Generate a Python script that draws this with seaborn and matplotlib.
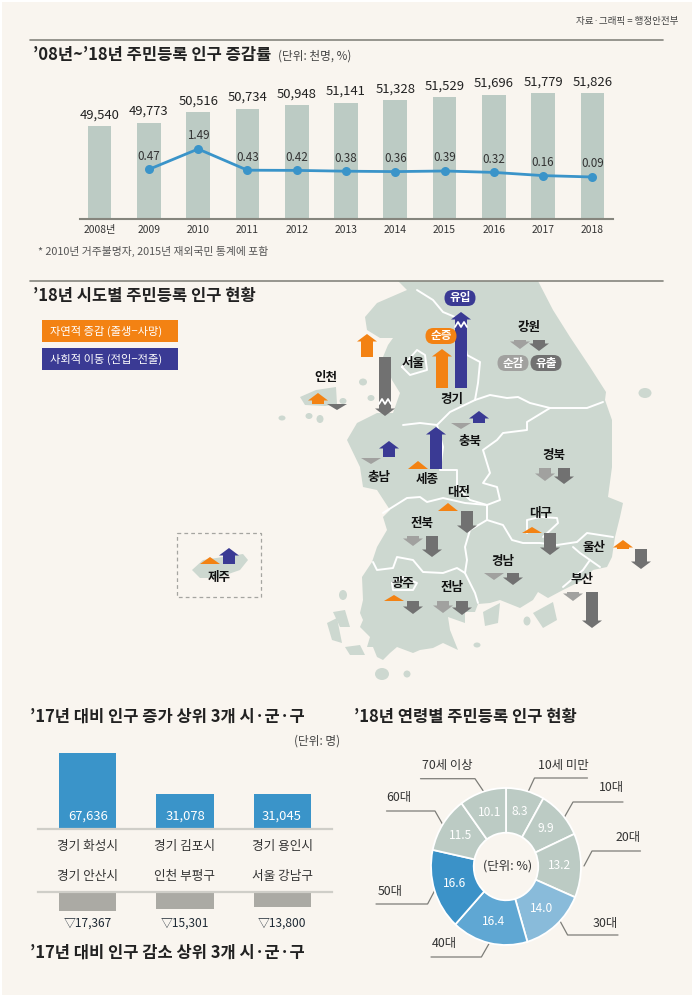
import matplotlib
matplotlib.use('Agg')
import matplotlib.pyplot as plt
import pandas as pd
import seaborn as sns
from matplotlib.patches import Ellipse, FancyBboxPatch, Polygon, Rectangle

sns.set_theme(style='white')
plt.rcParams['font.family'] = ['Noto Sans CJK KR', 'DejaVu Sans']

BG = '#f9f5ef'
SAGE = '#bccbc4'
LAND = '#cdd8d0'
BLUE = '#3a94c9'
NAVY = '#3a3a94'
ORANGE = '#f38213'
DARK = '#717171'
LIGHT = '#a1a19f'
RULE = '#85857d'
INK = '#222222'

# population trend
years = ['2008년', '2009', '2010', '2011', '2012', '2013', '2014', '2015', '2016', '2017', '2018']
population = [49540, 49773, 50516, 50734, 50948, 51141, 51328, 51529, 51696, 51779, 51826]
rate_years = years[1:]
rates = [0.47, 1.49, 0.43, 0.42, 0.38, 0.36, 0.39, 0.32, 0.16, 0.09]

# regions: natural change and social migration, arrow lengths
regions = ['경기', '서울', '인천', '강원', '충북', '세종', '충남', '경북', '대전',
           '전북', '대구', '울산', '경남', '부산', '광주', '전남', '제주']
natural = [39, 23, 11, -9, -6, 8, -6, -13, 8, -10, 6, 9, -7, -9, 6, -12, 7]
social = [76, -59, -6, -11, 12, 42, 16, -16, -22, -21, -22, -20, -12, -36, -13, -14, 16]

# top and bottom districts
up_names = ['경기 화성시', '경기 김포시', '경기 용인시']
up_values = [67636, 31078, 31045]
down_names = ['경기 안산시', '인천 부평구', '서울 강남구']
down_values = [17367, 15301, 13800]

# age groups
age_labels = ['10세 미만', '10대', '20대', '30대', '40대', '50대', '60대', '70세 이상']
age_shares = [8.3, 9.9, 13.2, 14.0, 16.4, 16.6, 11.5, 10.1]
age_colors = [SAGE, SAGE, SAGE, '#89bbda', '#5fa7d3', '#3b92c8', SAGE, SAGE]

# map drawing, in image pixels
mainland = [(398, 281), (538, 281), (553, 310), (570, 337), (590, 367), (606, 392), (605, 400),
            (612, 420), (612, 467), (608, 497), (623, 503), (620, 517), (615, 537), (612, 557),
            (607, 567), (593, 570), (583, 580), (563, 590), (548, 598), (538, 592), (533, 600),
            (520, 608), (500, 600), (490, 603), (478, 604), (475, 612), (465, 612), (465, 623),
            (448, 617), (450, 630), (458, 650), (443, 643), (433, 648), (420, 650), (413, 653),
            (397, 647), (390, 653), (383, 660), (377, 657), (373, 647), (367, 647), (370, 637),
            (360, 627), (363, 620), (360, 613), (363, 600), (362, 577), (372, 562), (377, 547),
            (387, 530), (383, 517), (390, 510), (377, 490),
            (363, 487), (360, 467), (347, 440), (357, 423), (377, 413), (393, 413), (400, 393),
            (392, 380), (383, 357), (388, 345), (393, 338), (380, 338), (367, 330), (365, 317),
            (377, 303), (407, 290)]
incheon_isles = [(300, 397), (316, 390), (336, 387), (337, 404), (325, 406), (305, 405)]
jeju_shape = [(192, 570), (203, 560), (243, 554), (248, 560), (240, 570), (217, 578), (200, 578)]
geoje = [(533, 613), (553, 602), (557, 620), (543, 628)]
namhae = [(483, 612), (500, 603), (498, 623), (485, 626)]
jindo = [(327, 623), (337, 618), (342, 643), (332, 640)]
sinan = [(333, 612), (345, 610), (350, 627), (340, 627)]
wando = [(345, 647), (360, 645), (365, 655), (350, 655)]
blobs = [(282, 418, 7, 5), (309, 416, 7, 6), (320, 419, 7, 8), (371, 398, 7, 6), (343, 401, 7, 6),
         (363, 382, 8, 7), (645, 393, 13, 10), (343, 595, 8, 10), (477, 645, 7, 5), (527, 621, 7, 9),
         (382, 674, 14, 12), (407, 674, 7, 7)]
boundaries = [
    [(417, 290), (433, 300), (443, 312), (455, 317), (462, 327), (467, 355), (480, 362), (478, 383),
     (475, 400)],
    [(475, 400), (490, 395), (507, 398), (518, 397), (530, 403), (550, 408), (567, 408), (587, 408),
     (603, 402)],
    [(403, 425), (420, 423), (437, 425), (450, 412), (475, 400)],
    [(550, 408), (527, 422), (527, 430), (503, 433), (497, 440), (483, 450), (490, 473), (483, 483),
     (497, 487), (500, 500), (487, 505), (487, 518), (487, 520)],
    [(437, 425), (443, 447), (440, 470), (457, 470), (457, 487), (470, 500), (487, 505)],
    [(383, 513), (407, 498), (420, 497), (427, 502), (443, 498), (465, 503), (487, 505), (487, 520),
     (470, 530), (465, 547), (467, 560), (465, 573), (475, 593), (478, 603)],
    [(373, 562), (377, 570), (393, 568), (397, 557), (413, 560), (423, 572), (443, 573), (457, 568),
     (465, 573)],
    [(487, 520), (503, 525), (512, 540), (523, 543), (540, 543), (557, 545), (577, 542), (587, 533),
     (600, 535), (613, 537)],
    [(573, 547), (580, 553), (590, 560), (600, 567)],
    [(590, 560), (583, 570), (563, 587)],
    [(527, 533), (527, 520), (540, 517), (557, 518), (558, 523), (543, 537)],
    [(392, 583), (403, 577), (417, 583), (413, 590), (393, 590), (392, 583)],
    [(402, 367), (417, 350), (425, 355), (427, 370), (410, 375), (402, 367)],
]

# pixel positions of the map furniture
natural_x = [442, 367, 318, 520, 461, 418, 371, 545, 448, 413, 532, 623, 494, 573, 394, 443, 210]
natural_y = [388, 357, 404, 340, 423, 469, 458, 468, 511, 536, 533, 549, 573, 592, 601, 601, 564]
social_x = [461, 385, 337, 539, 479, 436, 389, 564, 467, 432, 550, 641, 513, 592, 413, 462, 229]
social_y = [388, 357, 404, 340, 423, 469, 457, 468, 511, 536, 533, 549, 573, 592, 601, 601, 564]
label_xy = [(452, 400), (413, 363), (326, 378), (529, 327), (470, 442), (427, 479), (379, 477),
            (554, 456), (459, 492), (422, 523), (541, 514), (594, 548), (503, 562), (582, 580),
            (403, 583), (452, 588), (219, 577)]

leaders = [[(587.5, 778), (534.5, 778), (528, 792)],
           [(623, 802), (573, 802), (564.5, 817)],
           [(640.5, 851), (592, 851), (584, 866)],
           [(618, 935), (567.6, 935), (560, 921)],
           [(431, 957), (481.4, 957), (489.4, 943)],
           [(376, 904), (427.6, 904), (435, 890)],
           [(386.5, 811), (435, 811), (443, 825)],
           [(420.5, 778.7), (475, 778.7), (484, 792)]]
leader_label_xy = [(563, 765), (611, 788), (628, 838), (605, 923),
                   (444, 943), (390, 891), (399, 798), (447, 765)]

W, H = 692, 998
fig = plt.figure(figsize=(W / 100, H / 100), dpi=100, facecolor='white')


def axes_px(left, top, right, bottom, **kw):
    ax = fig.add_axes([left / W, 1 - bottom / H, (right - left) / W, (bottom - top) / H], **kw)
    ax.patch.set_alpha(0)
    return ax


base = axes_px(0, 0, W, H)
base.set_xlim(0, W)
base.set_ylim(H, 0)
base.axis('off')
base.add_patch(Rectangle((2, 2), W - 2, H - 5, color=BG, lw=0))


def put(x, y, s, size=9.0, color=INK, ha='center', weight='normal', zorder=6):
    base.text(x, y, s, fontsize=size, color=color, ha=ha, va='center', weight=weight, zorder=zorder)


def arrow(x, y, length, color):
    # y grows downward in the overlay, so positive length points up the page
    sign = -1 if length > 0 else 1
    tip = y + sign * abs(length)
    if abs(length) <= 8:
        pts = [(x - 10, y), (x, tip), (x + 10, y)]
    else:
        neck = tip - sign * 7.5
        pts = [(x - 6, y), (x - 6, neck), (x - 10, neck), (x, tip), (x + 10, neck), (x + 6, neck), (x + 6, y)]
    base.add_patch(Polygon(pts, closed=True, color=color, lw=0, zorder=4))


# ---- header and rules
put(678, 21, '자료·그래픽 = 행정안전부', size=6.9, color='#444444', ha='right')
for rule_y in (40, 281):
    base.plot([30, 663], [rule_y, rule_y], color=RULE, lw=1.2, zorder=5)
put(33, 55, "’08년~’18년 주민등록 인구 증감률", size=11.9, ha='left', weight='bold')
put(278, 56, '(단위: 천명, %)', size=8.4, color='#444444', ha='left')
put(38, 251, '* 2010년 거주불명자, 2015년 재외국민 통계에 포함', size=7.8, color='#555555', ha='left')

# ---- trend chart
trend_df = pd.DataFrame({'year': years, 'population': population})
ax = axes_px(80.4, 60, 612.6, 219)
sns.barplot(data=trend_df, x='year', y='population', color=SAGE, saturation=1, width=0.48, linewidth=0, ax=ax)
ax.set_xlim(-0.389, 10.41)
ax.set_ylim(43120, 54086)
ax.set_xlabel('')
ax.set_ylabel('')
ax.set_yticks([])
ax.tick_params(axis='x', length=0, pad=4, labelsize=7.4, labelcolor='#333333')
sns.despine(ax=ax, left=True)
ax.spines['bottom'].set_color(RULE)
ax.spines['bottom'].set_linewidth(1.5)
for i, v in enumerate(population):
    ax.annotate(f'{v:,}', (i, v), xytext=(0, 8), textcoords='offset points', ha='center', va='center',
                fontsize=9.4, color=INK)

rate_df = pd.DataFrame({'year': rate_years, 'rate': rates})
ax2 = ax.twinx()
ax2.patch.set_alpha(0)
sns.lineplot(data=rate_df, x=[years.index(y) for y in rate_years], y='rate', color=BLUE, lw=2,
             marker='o', markersize=6.5, markeredgewidth=0, ax=ax2)
ax2.set_ylim(-2.01, 5.94)
ax2.axis('off')
for i, r in enumerate(rates):
    ax2.annotate(f'{r:.2f}', (i + 1, r), xytext=(0, 9.5), textcoords='offset points',
                 ha='center', va='center', fontsize=8.4, color='#333333')

# ---- map
put(33, 296, "’18년 시도별 주민등록 인구 현황", size=11.9, ha='left', weight='bold')
for shape in (mainland, incheon_isles, jeju_shape, geoje, namhae, jindo, sinan, wando):
    base.add_patch(Polygon(shape, closed=True, color=LAND, lw=0, zorder=1))
for bx, by, bw, bh in blobs:
    base.add_patch(Ellipse((bx, by), bw, bh, color=LAND, lw=0, zorder=1))
for line in boundaries:
    base.plot(*zip(*line), color='white', lw=1.4, zorder=2)
base.add_patch(Rectangle((177, 533), 84, 64, fill=False, ec='#a5a5a0', ls=(0, (3, 2.5)), lw=0.9, zorder=2))

for i, name in enumerate(regions):
    arrow(natural_x[i], natural_y[i], natural[i], ORANGE if natural[i] > 0 else LIGHT)
    arrow(social_x[i], social_y[i], social[i], NAVY if social[i] > 0 else DARK)
    put(label_xy[i][0], label_xy[i][1], name, size=9, color='#111111', weight='bold')

# white breaks on the two arrows that are shortened
base.plot([455, 458, 461, 464, 467], [327, 322, 327, 322, 327], color='white', lw=1.3, zorder=5)
base.plot([379, 382, 385, 388, 391], [404, 399, 404, 399, 404], color='white', lw=1.3, zorder=5)

for px_, py_, text_, col_ in [(460, 298, '유입', NAVY), (441, 336, '순증', ORANGE),
                              (513, 363, '순감', LIGHT), (546, 363, '유출', DARK)]:
    base.add_patch(FancyBboxPatch((px_ - 15.5, py_ - 8), 31, 16, boxstyle='round,pad=0,rounding_size=8',
                                  color=col_, lw=0, zorder=5))
    put(px_, py_, text_, size=8.4, color='white', weight='bold')

for ly, text_, col_ in [(331, '자연적 증감 (출생−사망)', ORANGE), (359, '사회적 이동 (전입−전출)', NAVY)]:
    base.add_patch(Rectangle((42, ly - 11), 136, 22, color=col_, lw=0, zorder=3))
    put(106, ly, text_, size=8.1, color='white')

# ---- district bars
put(30, 717, "’17년 대비 인구 증가 상위 3개 시·군·구", size=11.9, ha='left', weight='bold')
put(340, 741, '(단위: 명)', size=8.4, color='#444444', ha='right')
put(30, 953, "’17년 대비 인구 감소 상위 3개 시·군·구", size=11.9, ha='left', weight='bold')

up_df = pd.DataFrame({'name': up_names, 'value': up_values})
ax3 = axes_px(38, 740, 332, 829)
sns.barplot(data=up_df, x='name', y='value', color=BLUE, saturation=1, width=0.588, linewidth=0, ax=ax3)
ax3.set_xlim(-0.515, 2.515)
ax3.set_ylim(0, 89 / 0.001124)
ax3.set_xlabel('')
ax3.set_ylabel('')
ax3.set_yticks([])
ax3.tick_params(axis='x', length=0, pad=8, labelsize=9.1, labelcolor='#333333')
sns.despine(ax=ax3, left=True)
ax3.spines['bottom'].set_color('#cfcec8')
ax3.spines['bottom'].set_linewidth(1.6)
for i, v in enumerate(up_values):
    ax3.annotate(f'{v:,}', (i, 0), xytext=(0, 9.5), textcoords='offset points', ha='center', va='center',
                 fontsize=9.4, color='white')

down_df = pd.DataFrame({'name': down_names, 'value': down_values})
ax4 = axes_px(38, 891.7, 332, 930)
sns.barplot(data=down_df, x='name', y='value', color='#abaaa4', saturation=1, width=0.588, linewidth=0, ax=ax4)
ax4.set_xlim(-0.515, 2.515)
ax4.set_ylim(38.3 / 0.001124, 0)
ax4.set_xlabel('')
ax4.set_ylabel('')
ax4.set_yticks([])
ax4.xaxis.tick_top()
ax4.tick_params(axis='x', length=0, pad=6, labelsize=9.1, labelcolor='#333333')
sns.despine(ax=ax4, left=True, bottom=True, top=False)
ax4.spines['top'].set_color('#cfcec8')
ax4.spines['top'].set_linewidth(1.6)
for i, v in enumerate(down_values):
    put(88 + 97 * i, 923, f'▽{v:,}', size=8.6, color='#1f2a35')

# ---- age donut
put(354, 717, "’18년 연령별 주민등록 인구 현황", size=11.9, ha='left', weight='bold')
ax5 = axes_px(431, 788, 581, 945)
wedges, _, autotexts = ax5.pie(age_shares, colors=age_colors, startangle=90, counterclock=False, radius=1,
                               autopct='%.1f', pctdistance=0.72,
                               wedgeprops={'width': 0.57, 'edgecolor': 'white', 'linewidth': 1.3})
ax5.set_aspect('auto')
ax5.set_xlim(-1, 1)
ax5.set_ylim(-1, 1)
for t in autotexts:
    t.set_color('white')
    t.set_fontsize(8.6)
put(508, 866, '(단위: %)', size=9, color='#333333')

for line in leaders:
    base.plot(*zip(*line), color='#7d7d78', lw=0.9, zorder=5)
for (lx, ly), name in zip(leader_label_xy, age_labels):
    put(lx, ly, name, size=8.9, color='#333333')

fig.savefig('out.png', dpi=100, facecolor='white')
